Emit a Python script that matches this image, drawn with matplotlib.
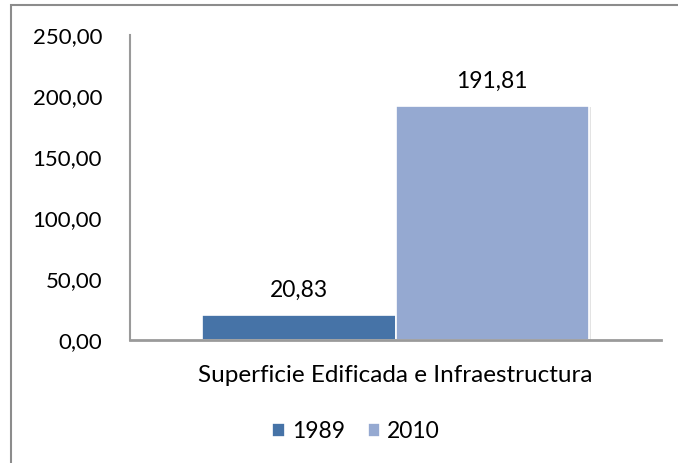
import matplotlib
matplotlib.use("Agg")
import matplotlib.pyplot as plt
from matplotlib.patches import Rectangle

categories = ["Superficie Edificada e Infraestructura"]
series_names = ["1989", "2010"]
values_1989 = [20.83]
values_2010 = [191.81]
y_ticks = [0, 50, 100, 150, 200, 250]

colors = ["#4673A7", "#95A9D1"]

plt.rcParams["font.family"] = ["Lato", "DejaVu Sans"]

fig = plt.figure(figsize=(6.78, 4.63), dpi=100)
ax = fig.add_axes([0.1917, 0.2657, 0.7833, 0.6587])

# frame around the chart (only left/top visible in the original)
fig.patches.append(Rectangle((11 / 678, -0.1), 1.2, 1 - 5 / 463 + 0.1,
                             transform=fig.transFigure, fill=False,
                             edgecolor="#8c8c8c", linewidth=1.5))

width = 193 / 531
x = 0
for i, (name, vals) in enumerate(zip(series_names, [values_1989, values_2010])):
    off = (i - 0.5) * width
    # soft shadow
    ax.bar(x + off + 0.004, vals[0] + 0.6, width, bottom=-1.2, color="#e3e3e3", zorder=1)
    bars = ax.bar(x + off, vals, width, color=colors[i], edgecolor="white",
                  linewidth=1.2, label=name, zorder=2)
    for b, v in zip(bars, vals):
        ax.annotate(f"{v:.2f}".replace(".", ","), (b.get_x() + b.get_width() / 2, v),
                    xytext=(0, 10), textcoords="offset points",
                    ha="center", va="bottom", fontsize=16.5)

ax.set_xlim(-0.5, 0.5)
ax.set_ylim(0, 250)
ax.set_yticks(y_ticks)
ax.set_yticklabels([f"{t:.2f}".replace(".", ",") for t in y_ticks], fontsize=16)
ax.set_xticks([0])
ax.set_xticklabels(categories, fontsize=17.5)
ax.tick_params(axis="y", length=0, pad=20)
ax.tick_params(axis="x", length=0, pad=18)

for s in ["top", "right"]:
    ax.spines[s].set_visible(False)
ax.spines["left"].set_color("#9a9a9a")
ax.spines["bottom"].set_color("#9a9a9a")
ax.spines["left"].set_linewidth(1.5)
ax.spines["bottom"].set_linewidth(2)

ax.legend(loc="center", bbox_to_anchor=(356 / 678, 1 - 432 / 463),
          bbox_transform=fig.transFigure, ncol=2, frameon=False,
          fontsize=16.5, handlelength=0.55, handleheight=0.55,
          handletextpad=0.3, columnspacing=1.0)

fig.savefig("out.png", dpi=100)
